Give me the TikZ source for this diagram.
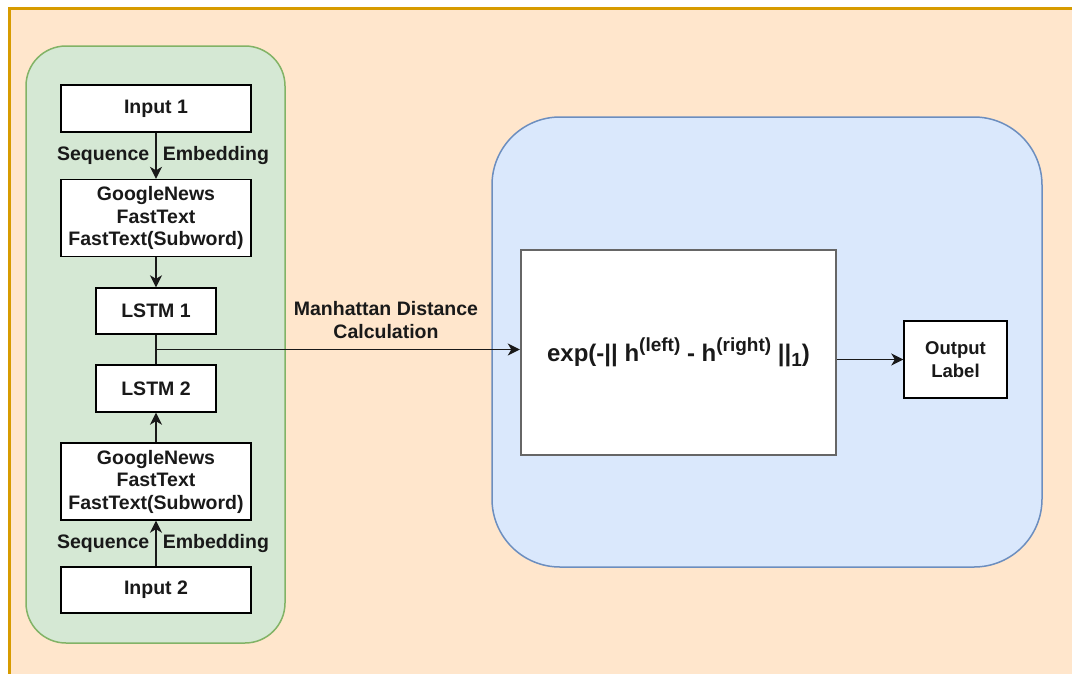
\documentclass[tikz,border=0pt]{standalone}
\usepackage{fontspec}
\setmainfont{Liberation Sans}
\usetikzlibrary{arrows.meta}
\definecolor{peach}{HTML}{FFE6CC}
\definecolor{peachline}{HTML}{D79B00}
\definecolor{greenfill}{HTML}{D5E8D4}
\definecolor{greenline}{HTML}{82B366}
\definecolor{bluefill}{HTML}{DAE8FC}
\definecolor{blueline}{HTML}{6C8EBF}
\definecolor{fxline}{HTML}{666666}
\tikzset{>={Stealth[length=12pt,width=12pt,inset=3.5pt]}}
\tikzset{
  box/.style={draw=black, fill=white, line width=1.4pt, align=center, inner sep=0pt,
    text=black!90, font=\fontsize{19.5}{22.5}\selectfont\bfseries},
  fxbox/.style={box, draw=fxline, line width=2.4pt, font=\fontsize{24}{28}\selectfont\bfseries},
  edge/.style={line width=1.5pt, black!90},
  lbl/.style={align=center, inner sep=0pt, text=black!90, font=\fontsize{19.5}{23.5}\selectfont\bfseries}
}
\newcommand{\hsup}[1]{\raisebox{0.42em}{\fontsize{19}{19}\selectfont #1}}
\newcommand{\hsub}[1]{\raisebox{-0.2em}{\fontsize{19}{19}\selectfont #1}}

\begin{document}
\begin{tikzpicture}[x=1pt,y=-1pt]

  \useasboundingbox (0,0) rectangle (1072,673);
  \clip (0,0) rectangle (1072,673);
  \fill[white] (0,0) rectangle (1072,673);

  \draw[line width=3pt, draw=peachline, fill=peach] (9,8.5) rectangle (1100,700);
  \draw[line width=1.5pt, draw=greenline, fill=greenfill, rounded corners=40pt] (26,46) rectangle (285,643);
  \draw[line width=1.5pt, draw=blueline, fill=bluefill, rounded corners=68pt] (492,117) rectangle (1042,567);

  \node[box, minimum width=190pt, minimum height=47pt] (in1) at (156,108.5) {Input 1};
  \node[box, minimum width=190pt, minimum height=77pt] (emb1) at (156,218) {GoogleNews\\FastText\\FastText(Subword)};
  \node[box, minimum width=120pt, minimum height=46pt] (lstm1) at (156,311) {LSTM 1};
  \node[box, minimum width=120pt, minimum height=47pt] (lstm2) at (156,388.5) {LSTM 2};
  \node[box, minimum width=190pt, minimum height=77pt] (emb2) at (156,481.5) {GoogleNews\\FastText\\FastText(Subword)};
  \node[box, minimum width=190pt, minimum height=46pt] (in2) at (156,590) {Input 2};

  \node[fxbox, minimum width=315pt, minimum height=205pt] (fx) at (678.5,352.5)
    {\raisebox{4pt}{exp(-|| h\hsup{(left)} - h\hsup{(right)} ||\hsub{1})}};
  \node[box, font=\fontsize{18.5}{23}\selectfont\bfseries, minimum width=103pt, minimum height=77pt] (out) at (955.5,359.5) {Output\\Label};

  \draw[edge,->] (in1) -- node[lbl, anchor=east, xshift=-6pt]{Sequence} node[lbl, anchor=west, xshift=6pt]{Embedding} (emb1);
  \draw[edge,->] (emb1) -- (lstm1);
  \draw[edge] (lstm1) -- coordinate (tap) (lstm2);
  \draw[edge,->] (in2) -- node[lbl, anchor=east, xshift=-6pt]{Sequence} node[lbl, anchor=west, xshift=6pt]{Embedding} (emb2);
  \draw[edge,->] (emb2) -- (lstm2);

  \draw[edge,->] (tap) -- (tap -| fx.west);
  \node[lbl] (dist) at (386,320) {Manhattan Distance\\Calculation};
  \draw[edge,->] (out.west -| fx.east) -- (out.west);

\end{tikzpicture}
\end{document}
